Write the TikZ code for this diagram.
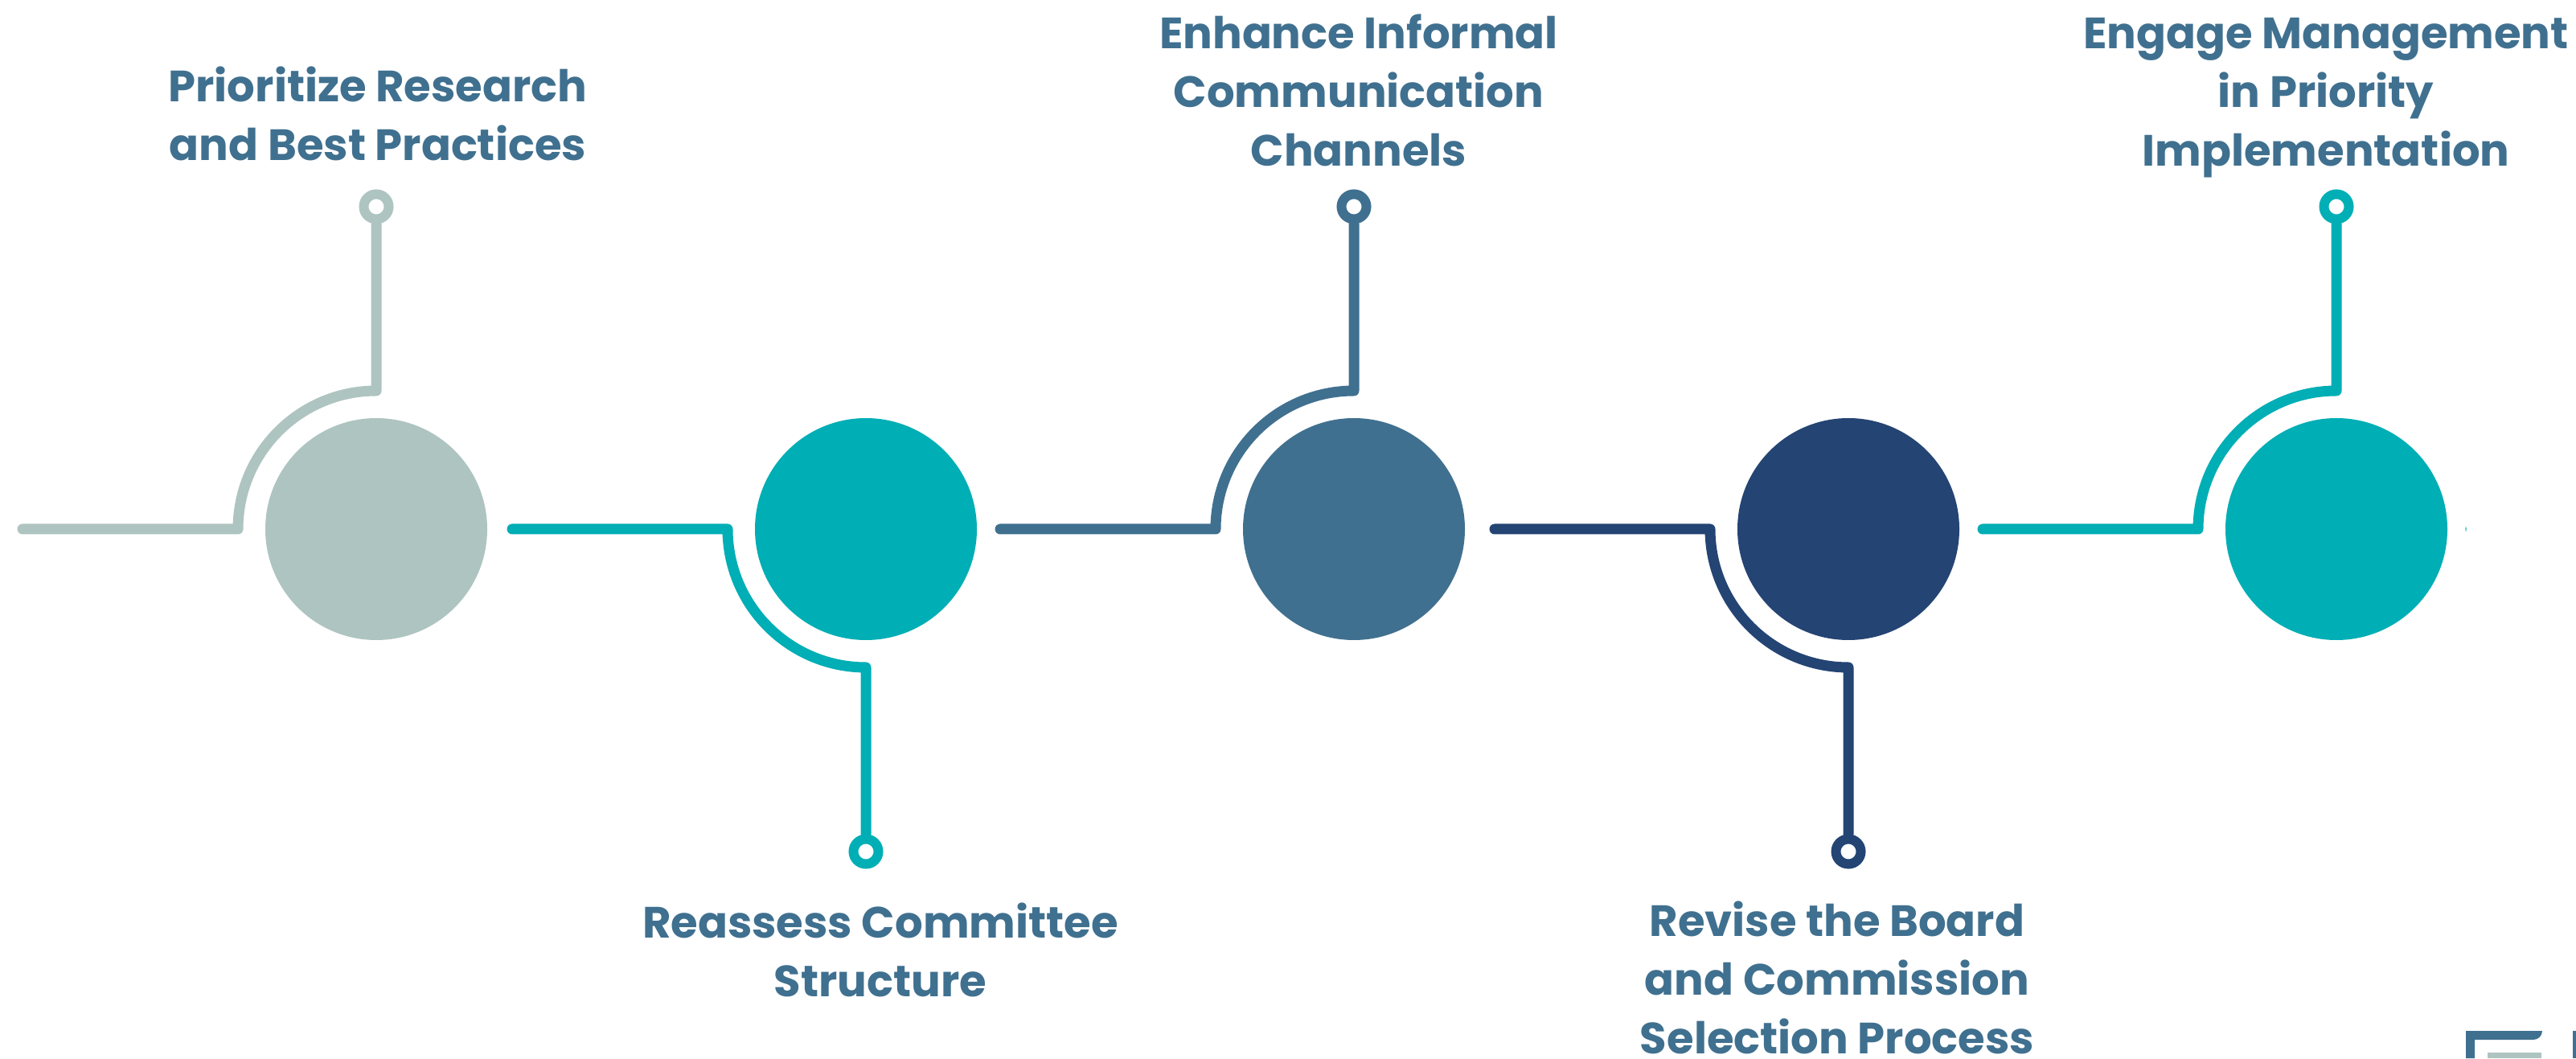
\documentclass[tikz,border=0pt]{standalone}
\usepackage{fontspec}
\setmainfont{Poppins}
\usepackage{tikz}
\definecolor{sage}{HTML}{AEC4C0}
\definecolor{teal}{HTML}{00AEB5}
\definecolor{steel}{HTML}{40708F}
\definecolor{navy}{HTML}{244473}
\tikzset{
  hub/.style={circle, minimum size=2.76cm, inner sep=0pt, draw=none},
  ring/.style={circle, minimum size=0.31cm, inner sep=0pt, line width=0.12cm, fill=white},
  link/.style={line width=0.13cm, line cap=round, line join=round},
  caption/.style={align=center, text=steel, font=\fontsize{15.5}{20.8}\selectfont\bfseries},
}
\begin{document}
\begin{tikzpicture}
\useasboundingbox (0,0) rectangle (32.04,13.16);

\node[hub, fill=sage] (hubA) at (4.68,6.58) {};
\node[hub, fill=teal] (hubB) at (10.77,6.58) {};
\node[hub, fill=steel] (hubC) at (16.84,6.58) {};
\node[hub, fill=navy] (hubD) at (22.99,6.58) {};
\node[hub, fill=teal] (hubE) at (29.06,6.58) {};

\node[ring, draw=sage] (ringA) at (4.68,10.59) {};
\node[ring, draw=teal] (ringB) at (10.77,2.57) {};
\node[ring, draw=steel] (ringC) at (16.84,10.59) {};
\node[ring, draw=navy] (ringD) at (22.99,2.57) {};
\node[ring, draw=teal] (ringE) at (29.06,10.59) {};

\coordinate (startA) at (0.28,6.58);
\coordinate (startB) at (6.37,6.58);
\coordinate (startC) at (12.44,6.58);
\coordinate (startD) at (18.59,6.58);
\coordinate (startE) at (24.66,6.58);
\coordinate (kneeA) at (2.96,6.58);
\coordinate (kneeB) at (9.05,6.58);
\coordinate (kneeC) at (15.12,6.58);
\coordinate (kneeD) at (21.27,6.58);
\coordinate (kneeE) at (27.34,6.58);

\draw[link, sage] (startA) -- (kneeA) arc[start angle=180, end angle=90, radius=1.72] -- (ringA.south);
\draw[link, teal] (startB) -- (kneeB) arc[start angle=180, end angle=270, radius=1.72] -- (ringB.north);
\draw[link, steel] (startC) -- (kneeC) arc[start angle=180, end angle=90, radius=1.72] -- (ringC.south);
\draw[link, navy] (startD) -- (kneeD) arc[start angle=180, end angle=270, radius=1.72] -- (ringD.north);
\draw[link, teal] (startE) -- (kneeE) arc[start angle=180, end angle=90, radius=1.72] -- (ringE.south);

\node[caption] (textA) at (4.70,11.75) {Prioritize Research\\and Best Practices};
\node[caption] (textB) at (10.95,1.35) {Reassess Committee\\Structure};
\node[caption] (textC) at (16.90,12.04) {Enhance Informal\\Communication\\Channels};
\node[caption] (textD) at (22.85,1.00) {Revise the Board\\and Commission\\Selection Process};
\node[caption] (textE) at (28.93,11.94) {Engage Management\\in Priority\\Implementation};

% speck right of the last circle
\fill[teal] (30.67,6.58) ellipse (0.006 and 0.03);

% corner of the logo
\fill[steel] (30.67,0) -- (30.67,0.34) -- (31.62,0.34) arc[start angle=0, end angle=-90, radius=0.11] -- (30.78,0.23) -- (30.78,0) -- cycle;
\fill[sage] (30.94,0) rectangle (31.61,0.07);
\fill[steel] (32.00,0) rectangle (32.04,0.34);
\end{tikzpicture}
\end{document}
